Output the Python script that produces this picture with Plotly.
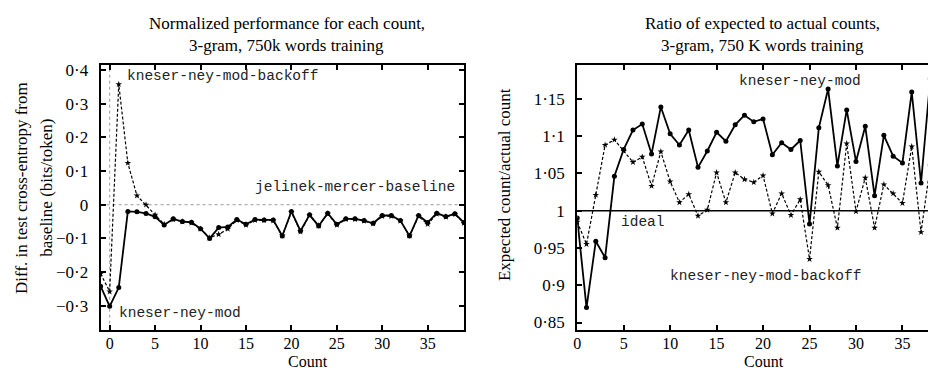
import plotly.graph_objects as go

# ---------------- data ----------------
counts_left = list(range(-1, 40))
kn_mod_left = [-0.242, -0.302, -0.246, -0.020, -0.021, -0.026, -0.036, -0.060, -0.042, -0.050,
               -0.052, -0.071, -0.100, -0.068, -0.066, -0.044, -0.058, -0.044, -0.045, -0.045,
               -0.093, -0.020, -0.078, -0.030, -0.063, -0.025, -0.058, -0.042, -0.042, -0.047,
               -0.055, -0.032, -0.032, -0.047, -0.093, -0.032, -0.053, -0.025, -0.035, -0.027,
               -0.053]
kn_backoff_left = [-0.205, -0.258, 0.358, 0.124, 0.027, 0.000, -0.030, -0.058, -0.044, -0.050,
                   -0.054, -0.072, -0.098, -0.088, -0.072, -0.046, -0.060, -0.046, -0.046, -0.047,
                   -0.092, -0.022, -0.080, -0.032, -0.062, -0.027, -0.060, -0.043, -0.043, -0.048,
                   -0.056, -0.034, -0.034, -0.048, -0.092, -0.034, -0.058, -0.027, -0.036, -0.028,
                   -0.055]

counts_right = list(range(0, 39))
kn_mod_right = [0.990, 0.870, 0.959, 0.937, 1.046, 1.082, 1.108, 1.116, 1.076, 1.139,
                1.103, 1.088, 1.108, 1.058, 1.080, 1.105, 1.093, 1.115, 1.128, 1.119,
                1.123, 1.075, 1.091, 1.082, 1.094, 0.982, 1.111, 1.163, 1.060, 1.135,
                1.066, 1.113, 1.020, 1.101, 1.073, 1.064, 1.159, 1.037, 1.177]
kn_backoff_right = [0.985, 0.955, 1.021, 1.088, 1.095, 1.080, 1.065, 1.072, 1.033, 1.079,
                    1.039, 1.011, 1.022, 0.993, 1.001, 1.051, 1.011, 1.051, 1.042, 1.038,
                    1.047, 0.996, 1.023, 0.994, 1.015, 0.935, 1.052, 1.034, 0.977, 1.090,
                    0.999, 1.044, 0.977, 1.035, 1.023, 1.010, 1.086, 0.971, 1.060]

x_tickvals = [0, 5, 10, 15, 20, 25, 30, 35]
left_y_tickvals = [-0.3, -0.2, -0.1, 0, 0.1, 0.2, 0.3, 0.4]
left_y_ticktext = ["\u22120\u00b73", "\u22120\u00b72", "\u22120\u00b71", "0", "0\u00b71", "0\u00b72", "0\u00b73", "0\u00b74"]
right_y_tickvals = [0.85, 0.9, 0.95, 1.0, 1.05, 1.1, 1.15]
right_y_ticktext = ["0\u00b785", "0\u00b79", "0\u00b795", "1", "1\u00b705", "1\u00b71", "1\u00b715"]

# ---------------- layout helpers ----------------
W, H = 928, 375
SERIF = "Liberation Serif, Times New Roman, serif"
MONO = "Liberation Mono, Courier New, monospace"


def px(x):
    return x / W


def py(y):
    return 1 - y / H


fig = go.Figure()

solid_style = dict(mode="lines+markers", line=dict(color="black", width=1.8),
                   marker=dict(symbol="circle", size=5, color="black"), showlegend=False)
dash_style = dict(mode="lines+markers", line=dict(color="black", width=1.2, dash="3px,2px"),
                  marker=dict(symbol="star", size=5, color="black"), showlegend=False)

fig.add_trace(go.Scatter(x=counts_left, y=kn_backoff_left, xaxis="x", yaxis="y", **dash_style))
fig.add_trace(go.Scatter(x=counts_left, y=kn_mod_left, xaxis="x", yaxis="y", **solid_style))
fig.add_trace(go.Scatter(x=counts_right, y=kn_backoff_right, xaxis="x2", yaxis="y2", **dash_style))
fig.add_trace(go.Scatter(x=counts_right, y=kn_mod_right, xaxis="x2", yaxis="y2", **solid_style))

common_axis = dict(showline=True, linecolor="black", linewidth=2, ticks="inside", ticklen=5,
                   tickwidth=1.5, tickcolor="black", showgrid=False, zeroline=False)
ytickfont = dict(family=SERIF, size=17, color="black")
xtickfont = dict(family=SERIF, size=16, color="black")

y_dom = [py(332), py(62.5)]

fig.update_layout(
    width=W, height=H, margin=dict(l=0, r=0, t=0, b=0),
    paper_bgcolor="white", plot_bgcolor="white",
    xaxis=dict(domain=[px(97), px(462)], range=[-1, 39], tickvals=x_tickvals,
               mirror="ticks", anchor="y", ticklabelstandoff=-2, tickfont=xtickfont,
               **common_axis),
    yaxis=dict(domain=y_dom, range=[-0.3713, 0.4167], tickvals=left_y_tickvals,
               ticktext=left_y_ticktext, mirror="ticks", anchor="x", ticklabelstandoff=7,
               tickfont=ytickfont, **common_axis),
    xaxis2=dict(domain=[px(575.7), 1.0], range=[0, 37.75], tickvals=x_tickvals,
                mirror="ticks", anchor="y2", ticklabelstandoff=-2, tickfont=xtickfont,
                **common_axis),
    yaxis2=dict(domain=y_dom, range=[0.8404, 1.1959], tickvals=right_y_tickvals,
                ticktext=right_y_ticktext, mirror=False, anchor="x2", ticklabelstandoff=7,
                tickfont=ytickfont, **common_axis),
)

# reference lines
fig.add_shape(type="line", xref="x", yref="y", x0=-1, x1=39, y0=0, y1=0,
              line=dict(color="#999999", width=1, dash="dot"), layer="below")
fig.add_shape(type="line", xref="x", yref="y domain", x0=0, x1=0, y0=0, y1=1,
              line=dict(color="#999999", width=1, dash="dot"), layer="below")
fig.add_shape(type="line", xref="x2", yref="y2", x0=0, x1=37.75, y0=1, y1=1,
              line=dict(color="black", width=1.5), layer="below")

ann = []


def text(x, y, s, font, xanchor="center", yanchor="middle", angle=0):
    ann.append(dict(x=px(x), y=py(y), xref="paper", yref="paper", text=s, showarrow=False,
                    xanchor=xanchor, yanchor=yanchor, textangle=angle, font=font))


serif17 = dict(family=SERIF, size=17, color="black")
serif16 = dict(family=SERIF, size=16, color="black")
mono = dict(family=MONO, size=14.5, color="#222222")

# titles
text(284, 21, "Normalized performance for each count,", serif17)
text(284, 43, "3-gram, 750k words training", serif17)
text(762, 21, "Ratio of expected to actual counts,", serif17)
text(762, 43, "3-gram, 750 K words training", serif17)

# axis titles
text(305, 375, "Count", serif16, yanchor="bottom")
text(763, 375, "Count", serif16, yanchor="bottom")
text(18, 188, "Diff. in test cross-entropy from", serif17, angle=-90)
text(43, 188, "baseline (bits/token)", serif17, angle=-90)
text(502.7, 184.5, "Expected count/actual count", serif17, angle=-90)

# series labels
text(121.7, 74, "kneser-ney-mod-backoff", mono, xanchor="left")
text(250, 187, "jelinek-mercer-baseline", mono, xanchor="left")
text(113.3, 315, "kneser-ney-mod", mono, xanchor="left")
text(736, 79, "kneser-ney-mod", mono, xanchor="left")
text(618, 223, "ideal", mono, xanchor="left")
text(667.3, 277, "kneser-ney-mod-backoff", mono, xanchor="left")

fig.update_layout(annotations=ann)

fig.write_html("out.html")
